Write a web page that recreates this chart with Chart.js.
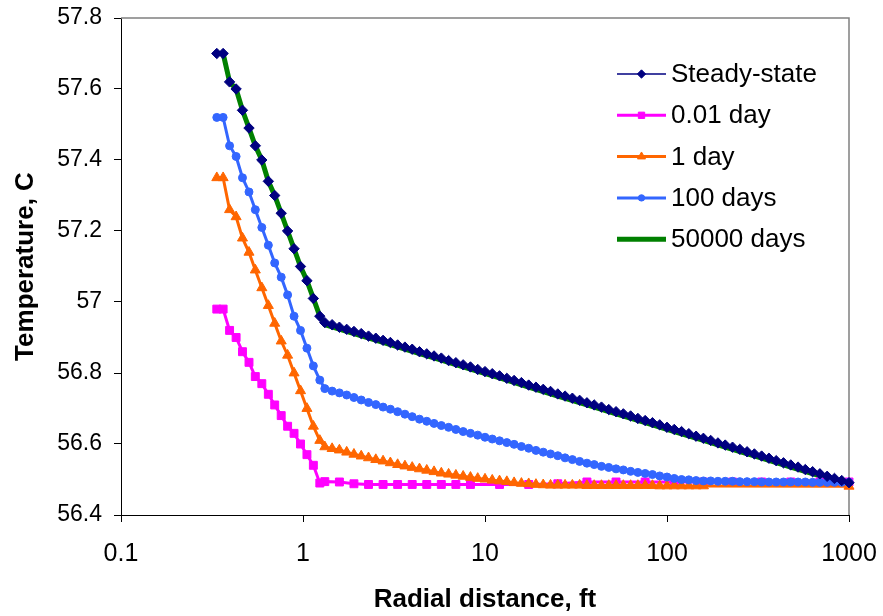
<!DOCTYPE html>
<html>
<head>
<meta charset="utf-8">
<script src="https://cdn.jsdelivr.net/npm/chart.js@4.4.1/dist/chart.umd.min.js"></script>
<style>
  html, body { margin: 0; padding: 0; background: #fff; }
  #wrap { width: 883px; height: 616px; }
</style>
</head>
<body>
<div id="wrap"><canvas id="chart" width="883" height="616"></canvas></div>
<script>
// radial grid (ft): cells inside the well, then the formation
const rInner = [0.336, 0.364, 0.395, 0.429, 0.465, 0.505, 0.547, 0.594, 0.645, 0.699, 0.759, 0.823, 0.893, 0.969, 1.051, 1.14, 1.237];
const rOuter = [1.318, 1.445, 1.585, 1.738, 1.905, 2.089, 2.291, 2.512, 2.754, 3.02,
  3.311, 3.631, 3.981, 4.365, 4.786, 5.248, 5.754, 6.31, 6.918, 7.586,
  8.318, 9.12, 10, 10.96, 12.02, 13.18, 14.45, 15.85, 17.38, 19.05,
  20.89, 22.91, 25.12, 27.54, 30.2, 33.11, 36.31, 39.81, 43.65, 47.86,
  52.48, 57.54, 63.1, 69.18, 75.86, 83.18, 91.2, 100, 109.6, 120.2,
  131.8, 144.5, 158.5, 173.8, 190.5, 208.9, 229.1, 251.2, 275.4, 302,
  331.1, 363.1, 398.1, 436.5, 478.6, 524.8, 575.4, 631, 691.8, 758.6,
  831.8, 912, 1000];
const rDay1Outer = rOuter.slice(0, 53).concat([1000]);
const rDay001Outer = [1.318, 1.585, 1.905, 2.291, 2.754, 3.311, 3.981, 4.786, 5.754, 6.918, 8.318,
  12.02, 17.38, 25.12, 36.31, 52.48, 75.86, 109.6, 158.5, 229.1, 331.1, 478.6, 691.8, 1000];
const rDay50000Outer = [1.318, 1.905, 2.754, 3.981, 5.754, 8.318, 12.02, 17.38, 25.12, 36.31,
  52.48, 75.86, 109.6, 158.5, 229.1, 331.1, 478.6, 691.8, 1000];

// temperatures (C)
const steadyInner = [57.70, 57.70, 57.62, 57.60, 57.54, 57.49, 57.44, 57.40, 57.34, 57.30, 57.25, 57.20, 57.15, 57.10, 57.06, 57.01, 56.96];
const steadyOuter = [56.942, 56.936, 56.929, 56.923, 56.917, 56.911, 56.904, 56.898, 56.892, 56.886,
  56.879, 56.873, 56.867, 56.860, 56.854, 56.848, 56.842, 56.835, 56.829, 56.823,
  56.817, 56.810, 56.804, 56.798, 56.792, 56.785, 56.779, 56.773, 56.766, 56.760,
  56.754, 56.748, 56.741, 56.735, 56.729, 56.723, 56.716, 56.710, 56.704, 56.697,
  56.691, 56.685, 56.679, 56.672, 56.666, 56.660, 56.654, 56.647, 56.641, 56.635,
  56.629, 56.622, 56.616, 56.610, 56.603, 56.597, 56.591, 56.585, 56.578, 56.572,
  56.566, 56.560, 56.553, 56.547, 56.541, 56.535, 56.528, 56.522, 56.516, 56.509,
  56.503, 56.497, 56.491];
const day001Inner = [56.98, 56.98, 56.92, 56.90, 56.86, 56.83, 56.79, 56.77, 56.74, 56.71, 56.68, 56.65, 56.63, 56.60, 56.57, 56.54, 56.49];
const day001Outer = [56.494, 56.493, 56.488, 56.486, 56.486, 56.486, 56.486, 56.486, 56.486, 56.486, 56.486, 56.486,
  56.486, 56.488, 56.493, 56.493, 56.493, 56.493, 56.493, 56.493, 56.493, 56.493, 56.493, 56.493];
const day1Inner = [57.35, 57.35, 57.26, 57.24, 57.18, 57.14, 57.09, 57.04, 56.99, 56.94, 56.89, 56.85, 56.80, 56.75, 56.70, 56.65, 56.61];
const day1Outer = [56.592, 56.587, 56.583, 56.577, 56.571, 56.566, 56.561, 56.556, 56.552, 56.547,
  56.542, 56.538, 56.534, 56.530, 56.526, 56.522, 56.518, 56.515, 56.512, 56.509,
  56.506, 56.503, 56.501, 56.498, 56.496, 56.494, 56.491, 56.489, 56.488, 56.486,
  56.485, 56.484, 56.484, 56.484, 56.484, 56.484, 56.483, 56.483, 56.483, 56.483,
  56.483, 56.483, 56.483, 56.483, 56.483, 56.483, 56.482, 56.482, 56.482, 56.482,
  56.482, 56.482, 56.482, 56.481];
const day100Inner = [57.52, 57.52, 57.44, 57.41, 57.35, 57.31, 57.26, 57.21, 57.16, 57.11, 57.07, 57.02, 56.96, 56.92, 56.87, 56.82, 56.78];
const day100Outer = [56.756, 56.749, 56.744, 56.738, 56.731, 56.724, 56.717, 56.711, 56.704, 56.698,
  56.691, 56.684, 56.677, 56.670, 56.664, 56.658, 56.652, 56.647, 56.641, 56.635,
  56.630, 56.625, 56.619, 56.614, 56.609, 56.604, 56.599, 56.593, 56.588, 56.582,
  56.577, 56.572, 56.567, 56.561, 56.556, 56.551, 56.546, 56.542, 56.537, 56.534,
  56.530, 56.527, 56.523, 56.520, 56.517, 56.514, 56.510, 56.507, 56.503, 56.500,
  56.499, 56.497, 56.496, 56.496, 56.495, 56.495, 56.495, 56.494, 56.494, 56.494,
  56.493, 56.493, 56.493, 56.493, 56.493, 56.493, 56.493, 56.492, 56.492, 56.492,
  56.492, 56.492, 56.492];
const day50000Inner = [57.70, 57.70, 57.62, 57.60, 57.54, 57.49, 57.44, 57.40, 57.34, 57.30, 57.25, 57.20, 57.15, 57.10, 57.06, 57.01, 56.96];
const day50000Outer = [56.936, 56.911, 56.886, 56.861, 56.836, 56.811, 56.786, 56.760, 56.735, 56.710,
  56.685, 56.660, 56.635, 56.610, 56.585, 56.560, 56.535, 56.510, 56.488];

const xTicks = [0.1, 1, 10, 100, 1000];
const xTickLabels = ['0.1', '1', '10', '100', '1000'];
const yTicks = [56.4, 56.6, 56.8, 57, 57.2, 57.4, 57.6, 57.8];
const yTickLabels = ['56.4', '56.6', '56.8', '57', '57.2', '57.4', '57.6', '57.8'];

const FONT = '"Liberation Sans", Arial, sans-serif';

function pts(r, t) {
  return r.map((x, i) => ({ x: x, y: t[i] }));
}

function marker(ctx, style, x, y, r, color) {
  ctx.fillStyle = color;
  ctx.strokeStyle = color;
  ctx.lineWidth = 1;
  ctx.beginPath();
  if (style === 'rectRot') {
    ctx.moveTo(x - r, y); ctx.lineTo(x, y - r); ctx.lineTo(x + r, y); ctx.lineTo(x, y + r);
  } else if (style === 'rect') {
    const s = r * Math.SQRT1_2;
    ctx.rect(x - s, y - s, 2 * s, 2 * s);
  } else if (style === 'triangle') {
    ctx.moveTo(x, y - r);
    ctx.lineTo(x + r * 0.866, y + r * 0.5);
    ctx.lineTo(x - r * 0.866, y + r * 0.5);
  } else {
    ctx.arc(x, y, r, 0, Math.PI * 2);
  }
  ctx.closePath();
  ctx.fill();
  ctx.stroke();
}

// legend drawn inside the plot, top right, like the original
const legendBox = {
  id: 'legendBox',
  afterDatasetsDraw(chart) {
    const ctx = chart.ctx;
    ctx.save();
    chart.data.datasets.forEach((ds, i) => {
      const y = 74 + i * 41.3;
      ctx.strokeStyle = ds.borderColor;
      ctx.lineWidth = ds.borderWidth;
      ctx.beginPath();
      ctx.moveTo(617, y);
      ctx.lineTo(666, y);
      ctx.stroke();
      if (ds.pointRadius > 0) marker(ctx, ds.pointStyle, 641.5, y, ds.pointRadius * 0.8, ds.borderColor);
      ctx.fillStyle = '#000';
      ctx.font = '26px ' + FONT;
      ctx.textBaseline = 'middle';
      ctx.textAlign = 'left';
      ctx.fillText(ds.label, 671, y + 1);
    });
    ctx.restore();
  }
};

// grey top and right edges of the plot area
const frame = {
  id: 'frame',
  beforeDatasetsDraw(chart) {
    const a = chart.chartArea;
    const ctx = chart.ctx;
    ctx.save();
    ctx.strokeStyle = '#808080';
    ctx.lineWidth = 1.5;
    ctx.beginPath();
    ctx.moveTo(a.left, a.top);
    ctx.lineTo(a.right, a.top);
    ctx.lineTo(a.right, a.bottom);
    ctx.stroke();
    ctx.restore();
  }
};

new Chart(document.getElementById('chart'), {
  type: 'scatter',
  data: {
    datasets: [
      {
        // its thin line lies under the 50000-day line, only the markers show
        label: 'Steady-state',
        data: pts(rInner.concat(rOuter), steadyInner.concat(steadyOuter)),
        borderColor: '#000080', backgroundColor: '#000080',
        borderWidth: 1.5, pointStyle: 'rectRot', pointRadius: 5.2, pointBorderWidth: 1,
        showLine: false, clip: false, order: 1
      },
      {
        label: '0.01 day',
        data: pts(rInner.concat(rDay001Outer), day001Inner.concat(day001Outer)),
        borderColor: '#FF00FF', backgroundColor: '#FF00FF',
        borderWidth: 3, pointStyle: 'rect', pointRadius: 5.6, pointBorderWidth: 1,
        showLine: true, clip: false, order: 4
      },
      {
        label: '1 day',
        data: pts(rInner.concat(rDay1Outer), day1Inner.concat(day1Outer)),
        borderColor: '#FF6600', backgroundColor: '#FF6600',
        borderWidth: 3, pointStyle: 'triangle', pointRadius: 5.8, pointBorderWidth: 1,
        showLine: true, clip: false, order: 3
      },
      {
        label: '100 days',
        data: pts(rInner.concat(rOuter), day100Inner.concat(day100Outer)),
        borderColor: '#3366FF', backgroundColor: '#3366FF',
        borderWidth: 3, pointStyle: 'circle', pointRadius: 4, pointBorderWidth: 1,
        showLine: true, clip: false, order: 2
      },
      {
        label: '50000 days',
        data: pts(rInner.concat(rDay50000Outer), day50000Inner.concat(day50000Outer)),
        borderColor: '#008000', backgroundColor: '#008000',
        borderWidth: 5, pointRadius: 0,
        showLine: true, clip: false, order: 5
      }
    ]
  },
  options: {
    responsive: false,
    animation: false,
    devicePixelRatio: 1,
    layout: { padding: { top: 18, right: 34, left: 0, bottom: 0 } },
    elements: { line: { tension: 0 } },
    plugins: { legend: { display: false }, tooltip: { enabled: false } },
    scales: {
      x: {
        type: 'logarithmic',
        min: 0.1,
        max: 1000,
        afterBuildTicks: s => { s.ticks = xTicks.map(v => ({ value: v })); },
        afterFit: s => { s.height = 101; s.paddingLeft = 0; s.paddingRight = 0; },
        grid: { drawOnChartArea: false, drawTicks: true, tickLength: 7, color: '#000' },
        border: { color: '#000', width: 1 },
        ticks: {
          color: '#000', padding: 17, maxRotation: 0, autoSkip: false,
          font: { family: FONT, size: 25 },
          callback: (v, i) => xTickLabels[i]
        },
        title: {
          display: true, text: 'Radial distance, ft', color: '#000',
          font: { family: FONT, size: 26, weight: 'bold', lineHeight: 1.2 },
          padding: { top: 0, bottom: 1 }
        }
      },
      y: {
        min: 56.4,
        max: 57.8,
        afterBuildTicks: s => { s.ticks = yTicks.map(v => ({ value: v })); },
        afterFit: s => { s.width = 121; s.paddingTop = 0; s.paddingBottom = 0; },
        grid: { drawOnChartArea: false, drawTicks: true, tickLength: 7, color: '#000' },
        border: { color: '#000', width: 1 },
        ticks: {
          color: '#000', padding: 12,
          font: { family: FONT, size: 23 },
          callback: (v, i) => yTickLabels[i]
        },
        title: {
          display: true, text: 'Temperature, C', color: '#000',
          font: { family: FONT, size: 26, weight: 'bold', lineHeight: 1.2 },
          padding: { top: 10, bottom: 0 }
        }
      }
    }
  },
  plugins: [legendBox, frame]
});
</script>
</body>
</html>
